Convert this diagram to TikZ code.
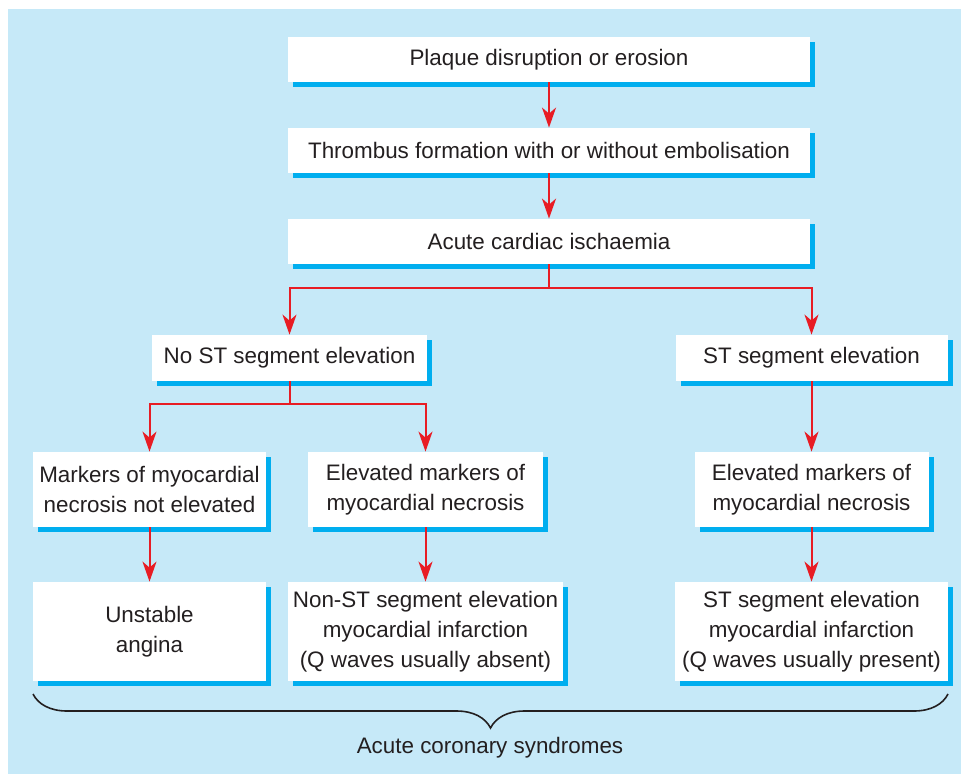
\documentclass[tikz,border=0pt]{standalone}
\usepackage{fontspec}
\setmainfont{Liberation Sans}
\usetikzlibrary{arrows.meta,decorations.pathreplacing,shadows}
\definecolor{panelblue}{RGB}{198,233,248}
\definecolor{shadeblue}{RGB}{0,174,239}
\definecolor{flowred}{RGB}{232,28,36}
\definecolor{inkgray}{RGB}{35,31,32}

\begin{document}
\begin{tikzpicture}[x=0.5pt,y=-0.5pt,
  box/.style={fill=white,inner sep=0pt,align=center,text=inkgray,
    font=\fontsize{11.2}{15}\selectfont,
    drop shadow={shadow xshift=2.5pt,shadow yshift=-2.5pt,fill=shadeblue,opacity=1}},
  flow/.style={flowred,line width=1pt},
  arr/.style={flow,-{Stealth[length=10pt,width=7pt,inset=3pt]}}]
  \useasboundingbox (0,0) rectangle (961,774);
  \fill[white] (0,0) rectangle (961,774);
  \fill[panelblue] (8,9) rectangle (961,774);
  \node[box,minimum width=261pt,minimum height=22.5pt] (plaque) at (549,59.5) {Plaque disruption or erosion};
  \node[box,minimum width=261pt,minimum height=22.5pt] (thrombus) at (549,150.5) {Thrombus formation with or without embolisation};
  \node[box,minimum width=261pt,minimum height=22.5pt] (ischaemia) at (549,241.5) {Acute cardiac ischaemia};
  \node[box,minimum width=137.5pt,minimum height=23pt] (nost) at (289.5,358) {No ST segment elevation};
  \node[box,minimum width=136pt,minimum height=23pt] (st) at (811.5,358) {ST segment elevation};
  \node[box,minimum width=116.5pt,minimum height=37.5pt] (notelev) at (149.5,489.5) {Markers of myocardial\\necrosis not elevated};
  \node[box,minimum width=117.5pt,minimum height=37.5pt] (elevl) at (425.5,489.5) {Elevated markers of\\myocardial necrosis};
  \node[box,minimum width=117pt,minimum height=37.5pt] (elevr) at (811.5,489.5) {Elevated markers of\\myocardial necrosis};
  \node[box,minimum width=116.5pt,minimum height=49.5pt] (ua) at (149.5,631.5) {Unstable\\angina};
  \node[box,minimum width=137.5pt,minimum height=49.5pt] (nstemi) at (425.5,631.5) {Non-ST segment elevation\\myocardial infarction\\(Q waves usually absent)};
  \node[box,minimum width=136.5pt,minimum height=49.5pt] (stemi) at (811.5,631.5) {ST segment elevation\\myocardial infarction\\(Q waves usually present)};
  \coordinate (fork1) at (549,288);
  \coordinate (fork2) at (289.5,404);
  \draw[arr] (plaque) -- (thrombus);
  \draw[arr] (thrombus) -- (ischaemia);
  \draw[flow] (ischaemia) -- (fork1);
  \draw[arr] (fork1) -| (nost);
  \draw[arr] (fork1) -| (st);
  \draw[flow] (nost) -- (fork2);
  \draw[arr] (fork2) -| (notelev);
  \draw[arr] (fork2) -| (elevl);
  \draw[arr] (st) -- (elevr);
  \draw[arr] (notelev) -- (ua);
  \draw[arr] (elevl) -- (nstemi);
  \draw[arr] (elevr) -- (stemi);
  \coordinate (braceL) at (33,694);
  \coordinate (braceR) at (948,694);
  \draw[inkgray,line width=0.8pt,decorate,decoration={brace,mirror,amplitude=17pt}] (braceL) -- (braceR);
  \node[text=inkgray,font=\fontsize{11.2}{15}\selectfont] (acs) at (490,748) {Acute coronary syndromes};
\end{tikzpicture}
\end{document}
